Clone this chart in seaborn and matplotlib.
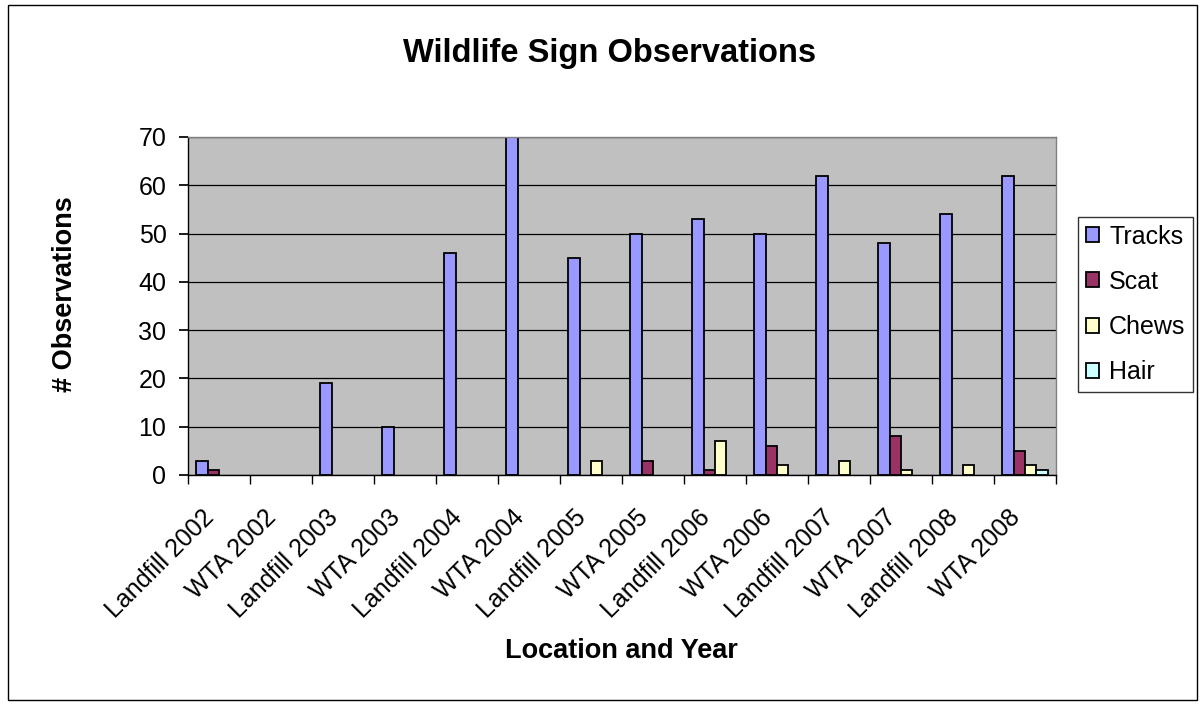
import matplotlib
matplotlib.use("Agg")
import matplotlib.pyplot as plt
import matplotlib.transforms as mtransforms
import seaborn as sns
import pandas as pd
import numpy as np
from matplotlib.patches import Rectangle

categories = ["Landfill 2002", "WTA 2002", "Landfill 2003", "WTA 2003", "Landfill 2004",
              "WTA 2004", "Landfill 2005", "WTA 2005", "Landfill 2006", "WTA 2006",
              "Landfill 2007", "WTA 2007", "Landfill 2008", "WTA 2008"]
tracks = [3, 0, 19, 10, 46, 70, 45, 50, 53, 50, 62, 48, 54, 62]
scat = [1, 0, 0, 0, 0, 0, 0, 3, 1, 6, 0, 8, 0, 5]
chews = [0, 0, 0, 0, 0, 0, 3, 0, 7, 2, 3, 1, 2, 2]
hair = [0, 0, 0, 0, 0, 0, 0, 0, 0, 0, 0, 0, 0, 1]
series_names = ["Tracks", "Scat", "Chews", "Hair"]
colors = ["#9999FF", "#993366", "#FFFFCC", "#CCFFFF"]

rows = []
for name, vals in zip(series_names, [tracks, scat, chews, hair]):
    for c, v in zip(categories, vals):
        rows.append({"cat": c, "series": name, "value": v})
df = pd.DataFrame(rows)
df_draw = df[df["value"] > 0]

sns.set_theme(style="white")
plt.rcParams['font.family'] = ['Liberation Sans', 'DejaVu Sans']
for k in ["text.color", "axes.labelcolor", "xtick.color", "ytick.color"]:
    plt.rcParams[k] = "black"

fig = plt.figure(figsize=(12.01, 7.04), dpi=100)
ax = fig.add_axes([188/1201, 1-475/704, (1056-188)/1201, (475-137)/704])

sns.barplot(data=df_draw, x="cat", y="value", hue="series", order=categories,
            hue_order=series_names, palette=colors, width=0.73, dodge=True,
            edgecolor="black", linewidth=1.3, saturation=1, ax=ax, legend=True)

ax.set_facecolor("#C0C0C0")
ax.set_ylim(0, 70)
ax.set_xlim(-0.5, len(categories) - 0.5)
ax.set_yticks(np.arange(0, 71, 10))
ax.yaxis.grid(True, color="black", linewidth=0.9)
ax.set_axisbelow(True)
ax.tick_params(axis="y", labelsize=18, length=6.5, color="black", direction="out", left=True, pad=9)
ax.set_xticks(range(len(categories)))
ax.set_xticklabels(categories, rotation=45, ha="right", va="center",
                   rotation_mode="anchor", fontsize=18)
ax.tick_params(axis="x", which="major", length=0, pad=28)
offset = mtransforms.ScaledTranslation(-9/100, 0, fig.dpi_scale_trans)
for lbl in ax.get_xticklabels():
    lbl.set_transform(lbl.get_transform() + offset)
ax.set_xticks(np.arange(-0.5, len(categories), 1), minor=True)
ax.tick_params(axis="x", which="minor", length=6.5, color="black", direction="out", bottom=True)
for s in ["left", "bottom"]:
    ax.spines[s].set_color("black")
    ax.spines[s].set_linewidth(1.0)
for s in ["top", "right"]:
    ax.spines[s].set_color("#808080")
    ax.spines[s].set_linewidth(1.0)

ax.set_xlabel("")
ax.set_ylabel("")
fig.text(621/1201, 1-658/704, "Location and Year", fontsize=19.5, fontweight="bold",
         ha="center", va="baseline")
fig.text(65/1201, 1-294/704, "# Observations", fontsize=19.5, fontweight="bold",
         ha="center", va="center", rotation=90)
fig.text(610/1201, 1-62/704, "Wildlife Sign Observations", fontsize=23.5, fontweight="bold",
         ha="center", va="baseline")

leg = ax.legend(loc="upper left", bbox_to_anchor=(1078/1201, 1-217/704),
                bbox_transform=fig.transFigure, frameon=True, fontsize=18,
                handlelength=0.55, handleheight=0.55, handletextpad=0.4,
                borderpad=0.3, labelspacing=0.85, fancybox=False, borderaxespad=0)
leg.get_frame().set_edgecolor("black")
leg.get_frame().set_linewidth(1.0)

fig.patches.append(Rectangle((8/1201, 4/704), 1189/1201, 695/704, transform=fig.transFigure,
                             fill=False, edgecolor="black", linewidth=1.0))

fig.savefig("out.png", dpi=100, facecolor="white")
